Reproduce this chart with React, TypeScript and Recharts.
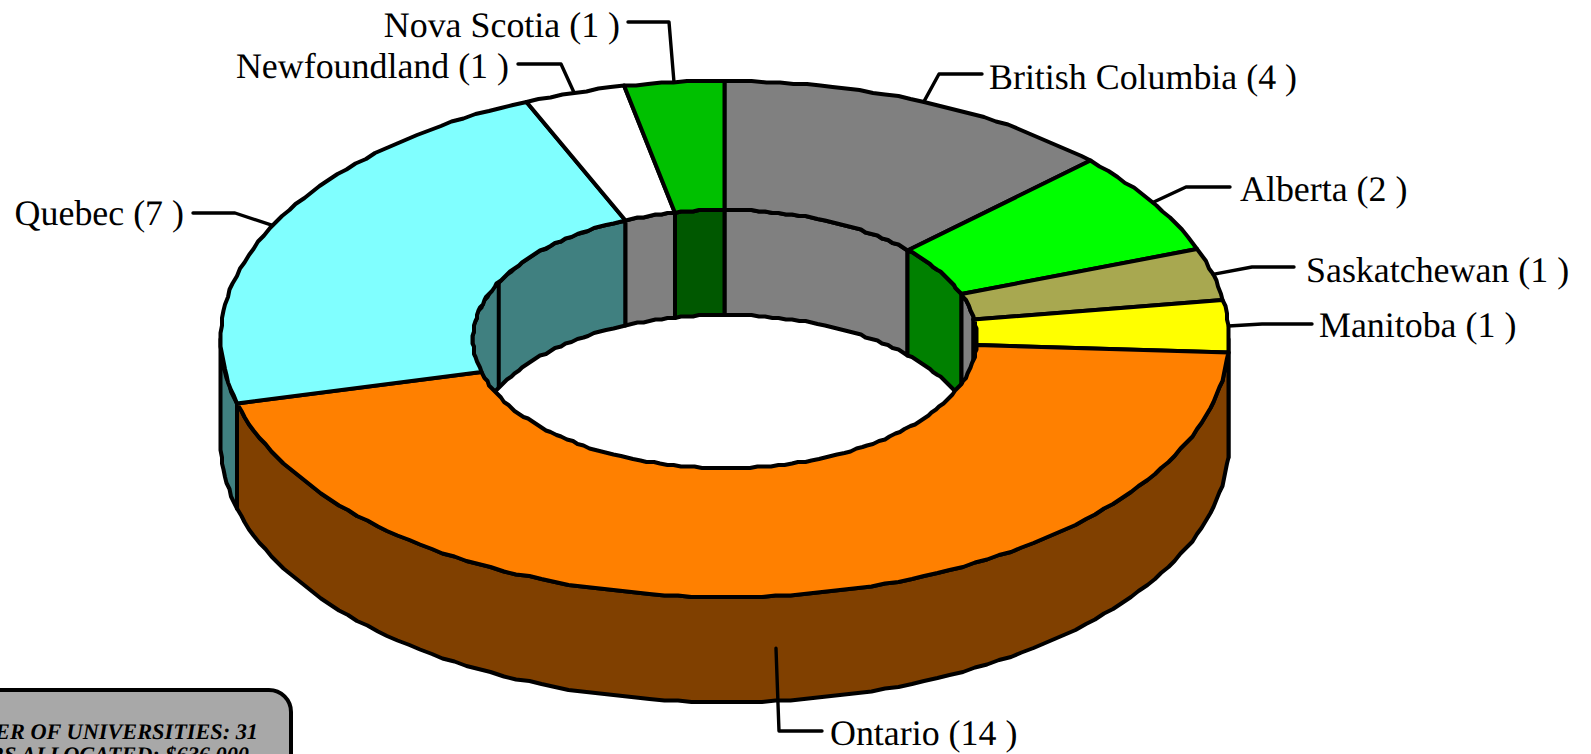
import React from 'react';
import { PieChart, Pie } from 'recharts';

const provinces = ['British Columbia', 'Alberta', 'Saskatchewan', 'Manitoba', 'Ontario', 'Quebec', 'Newfoundland', 'Nova Scotia'];
const universities = [4, 2, 1, 1, 14, 7, 1, 1];
const topColors = ['#808080', '#00FF00', '#A8A850', '#FFFF00', '#FF8000', '#80FFFF', '#FFFFFF', '#00C000'];
const wallColors = ['#808080', '#008000', '#808080', '#808080', '#804000', '#408080', '#808080', '#005800'];
const summaryLines = ['NUMBER OF UNIVERSITIES: 31', 'DOLLARS ALLOCATED: $636,000'];

// label layout, by province order: [elbow x, elbow y, end x, end y, text anchor, text x, baseline y]
const labelLayout: [number, number, number, number, 'start' | 'end', number, number][] = [
  [939, 74, 982, 74, 'start', 989, 89],
  [1186, 187, 1230, 187, 'start', 1240, 201],
  [1252, 267, 1294, 267, 'start', 1306, 282],
  [1262, 324, 1312, 324, 'start', 1319, 337],
  [779, 731, 822, 731, 'start', 830, 745],
  [235, 213, 193, 213, 'end', 184, 225],
  [561, 64, 518, 64, 'end', 509, 78],
  [669, 22, 628, 22, 'end', 620, 37],
];

const tableData = provinces.map((name, i) => ({ name, value: universities[i], top: topColors[i], wall: wallColors[i], idx: i }));

const W = 1591;
const H = 754;
const CX = 725;
const CY = 339;
const R_OUT = 504;
const R_IN = 252;
const SQUASH = 0.512;
const DEPTH = 105;
const LINE = 4;
const STEP = 1.6;
const GRID = 1.5;
const wallDividers = ['Quebec'];

const pt = (cx: number, cy: number, r: number, a: number): [number, number] => {
  const t = (a * Math.PI) / 180;
  return [cx + r * Math.cos(t), cy - r * SQUASH * Math.sin(t)];
};

const snap = (v: number) => Math.round(v / GRID) * GRID;

// points along the elliptical arc from angle a to angle b, snapped to a coarse grid as in the source's raster look
const arc = (cx: number, cy: number, r: number, a: number, b: number): [number, number][] => {
  const n = Math.max(1, Math.ceil(Math.abs(b - a) / STEP));
  const out: [number, number][] = [];
  for (let i = 0; i <= n; i++) {
    const p = pt(cx, cy, r, a + ((b - a) * i) / n);
    out.push([snap(p[0]), snap(p[1])]);
  }
  return out;
};

const toPath = (pts: [number, number][]) => 'M' + pts.map((p) => `${p[0].toFixed(1)},${p[1].toFixed(1)}`).join('L') + 'Z';

const overlap = (lo: number, hi: number, a: number, b: number): [number, number] | null => {
  const l = Math.max(lo, a);
  const h = Math.min(hi, b);
  return h > l ? [l, h] : null;
};

const band = (cx: number, cy: number, r: number, hi: number, lo: number) => {
  const top = arc(cx, cy, r, hi, lo);
  const bottom = arc(cx, cy + DEPTH, r, lo, hi);
  return toPath([...top, ...bottom]);
};

const strokeProps = { stroke: '#000', strokeWidth: LINE, strokeLinejoin: 'round' as const };

const InnerWall = (p: any) => {
  const lo = Math.min(p.startAngle, p.endAngle);
  const hi = Math.max(p.startAngle, p.endAngle);
  const parts = [overlap(lo, hi, 0, 90), overlap(lo, hi, -270, -180)].filter(Boolean) as [number, number][];
  const fill = p.payload?.wall ?? p.wall;
  const name = p.payload?.name ?? p.name;
  return (
    <g>
      {parts.map(([l, h], i) => (
        <path key={i} d={band(p.cx, p.cy, p.innerRadius, h, l)} fill={fill} {...strokeProps} />
      ))}
      {wallDividers.includes(name) && (() => {
        const [x, y] = pt(p.cx, p.cy, p.innerRadius, p.midAngle);
        return <line x1={x} y1={y} x2={x} y2={y + DEPTH} {...strokeProps} />;
      })()}
    </g>
  );
};

const OuterWall = (p: any) => {
  const lo = Math.min(p.startAngle, p.endAngle);
  const hi = Math.max(p.startAngle, p.endAngle);
  const part = overlap(lo, hi, -180, 0);
  if (!part) return <g />;
  return <path d={band(p.cx, p.cy, p.outerRadius, part[1], part[0])} fill={p.payload?.wall ?? p.wall} {...strokeProps} />;
};

const TopFace = (p: any) => {
  const d = toPath([
    ...arc(p.cx, p.cy, p.outerRadius, p.startAngle, p.endAngle),
    ...arc(p.cx, p.cy, p.innerRadius, p.endAngle, p.startAngle),
  ]);
  return <path d={d} fill={p.payload?.top ?? p.top} {...strokeProps} />;
};

const renderLabel = (p: any) => {
  const i = p.payload?.idx ?? p.idx ?? p.index;
  const [ex, ey, fx, fy, anchor, tx, ty] = labelLayout[i];
  const [sx, sy0] = pt(CX, CY, R_OUT, p.midAngle);
  const m = ((p.midAngle % 360) + 360) % 360;
  const sy = m > 180 && m < 360 && provinces[i] === 'Ontario' ? sy0 + DEPTH / 2 : sy0;
  return (
    <g key={i}>
      <polyline
        points={`${sx},${sy} ${ex},${ey} ${fx},${fy}`}
        fill="none"
        stroke="#000"
        strokeWidth={3.4}
        strokeLinejoin="round"
        strokeLinecap="round"
      />
      <text x={tx} y={ty} textAnchor={anchor} fontFamily="'Liberation Serif', serif" fontSize={35.9} fill="#000" textRendering="geometricPrecision">
        {`${provinces[i]} (${universities[i]} )`}
      </text>
    </g>
  );
};

export default function App() {
  const common = {
    data: tableData,
    dataKey: 'value',
    nameKey: 'name',
    cx: CX,
    cy: CY,
    innerRadius: R_IN,
    outerRadius: R_OUT,
    startAngle: 90,
    endAngle: -270,
    paddingAngle: 0,
    isAnimationActive: false,
    rootTabIndex: -1,
  };
  return (
    <div style={{ position: 'absolute', left: 0, top: 0, width: W, height: H, overflow: 'hidden', background: '#fff' }}>
      <PieChart width={W} height={H} margin={{ top: 0, right: 0, bottom: 0, left: 0 }} style={{ outline: 'none' }}>
        <Pie {...common} shape={InnerWall} label={false} labelLine={false} />
        <Pie {...common} shape={OuterWall} label={false} labelLine={false} />
        <Pie {...common} shape={TopFace} label={renderLabel} labelLine={false} />
      </PieChart>
      <svg width={W} height={H} style={{ position: 'absolute', left: 0, top: 0, pointerEvents: 'none' }}>
        <rect x={-60} y={690} width={351} height={140} rx={22} ry={22} fill="#A8A8A8" stroke="#000" strokeWidth={4} />
        <g fontFamily="'Liberation Serif', serif" fontWeight="bold" fontStyle="italic" fontSize={22.3} fill="#000" textRendering="geometricPrecision">
          <text x={258} y={739} textAnchor="end">{summaryLines[0]}</text>
          <text x={249} y={762} textAnchor="end">{summaryLines[1]}</text>
        </g>
      </svg>
    </div>
  );
}
